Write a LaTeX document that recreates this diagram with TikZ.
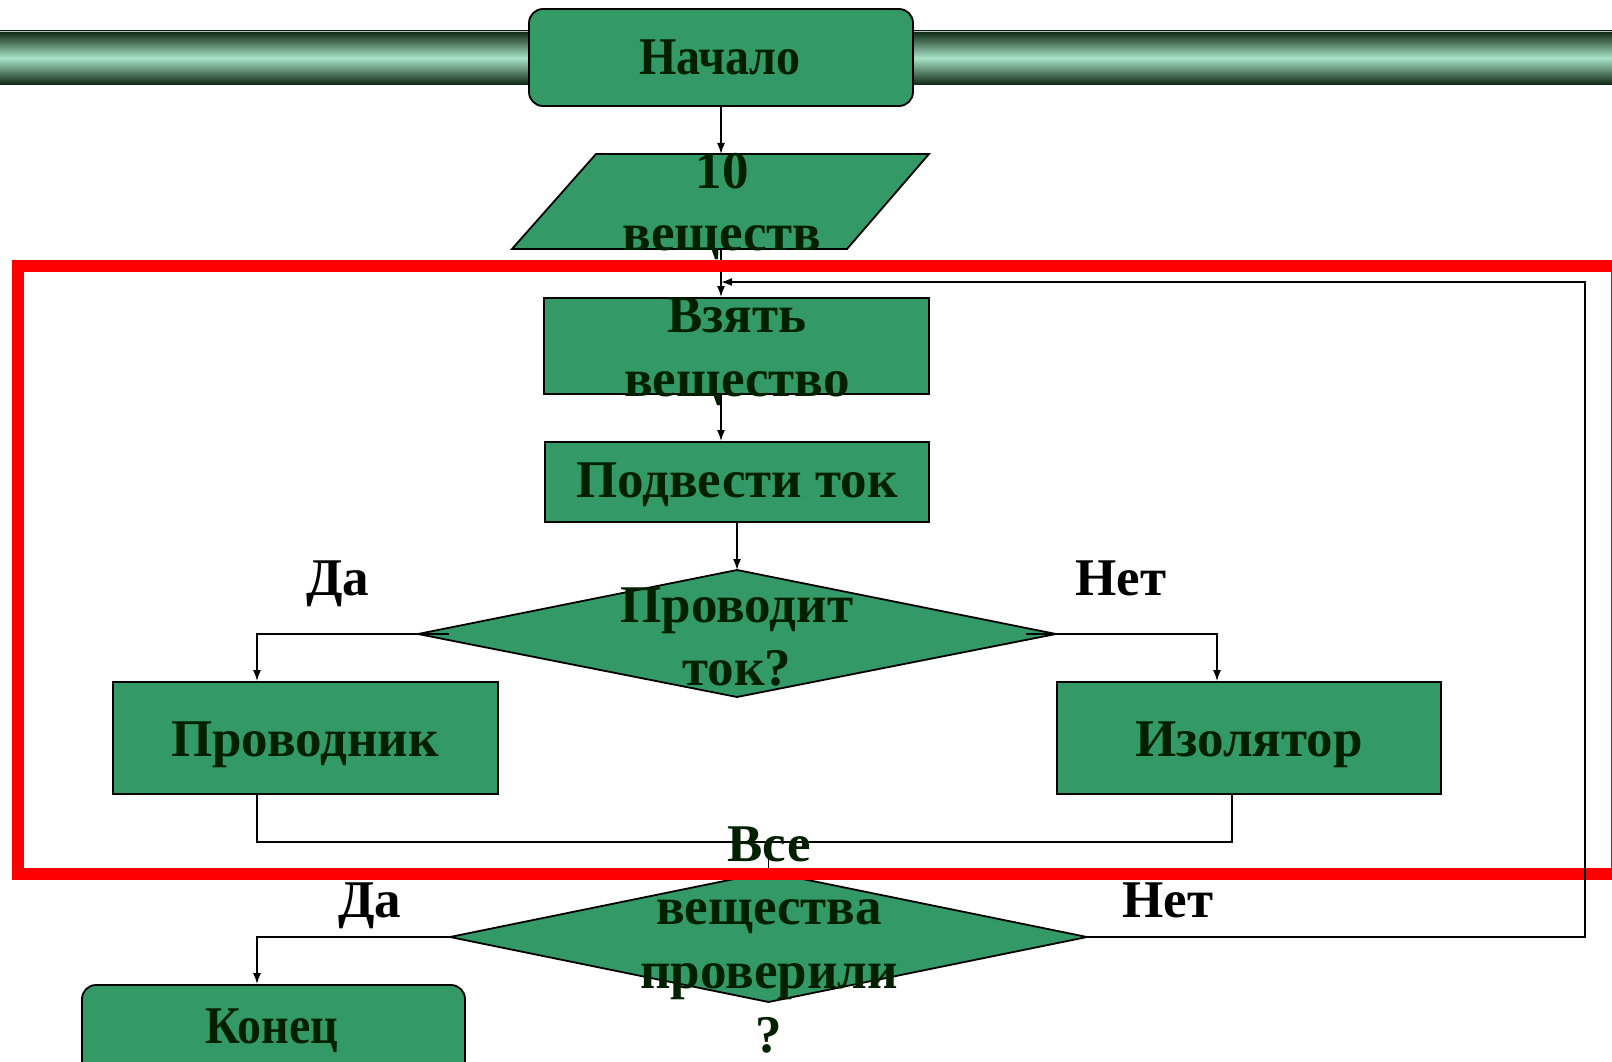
\documentclass[tikz,border=0pt]{standalone}
\usepackage{fontspec}
\setmainfont{Liberation Serif}
\usetikzlibrary{arrows.meta}
\definecolor{boxgreen}{HTML}{339966}
\definecolor{txtgreen}{HTML}{002000}
\definecolor{bardark}{HTML}{0C2610}
\definecolor{barlight}{HTML}{A8E4C8}
\newcommand{\narrowtext}[1]{\scalebox{0.905}[1]{#1}}
\tikzset{
  shapebox/.style={draw=black, line width=1.8pt, fill=boxgreen, inner sep=0pt},
  termbox/.style={shapebox, rounded corners=14pt},
  conn/.style={draw=black, line width=1.6pt},
  arr/.style={conn, -{Latex[length=11pt,width=8pt]}},
  txt/.style={anchor=base, inner sep=0pt, text=txtgreen, font=\fontsize{53pt}{56pt}\selectfont\bfseries},
  lbl/.style={txt, text=black},
  redframe/.style={draw=red, line width=12pt}
}
\begin{document}
\begin{tikzpicture}[x=1pt,y=-1pt]
\useasboundingbox (0,0) rectangle (1612,1062);
% header bar
\shade[top color=bardark, bottom color=bardark, middle color=barlight] (0,31) rectangle (1612,85);
\draw[gray!50, line width=1pt] (0,31.5) -- (1612,31.5);
% shapes
\node[termbox, minimum width=384pt, minimum height=97pt] (start) at (721,57.5) {};
\coordinate (inpT) at (721,154);
\coordinate (inpB) at (721,249);
\path[shapebox] (596,154) -- (929,154) -- (847,249) -- (512,249) -- cycle;
\node[shapebox, minimum width=385pt, minimum height=96pt] (take) at (736.5,346) {};
\node[shapebox, minimum width=384pt, minimum height=80pt] (curr) at (737,482) {};
\coordinate (d1T) at (737,570);
\coordinate (d1L) at (418,634);
\coordinate (d1R) at (1056,634);
\coordinate (d1B) at (737,697);
\path[shapebox] (d1T) -- (d1R) -- (d1B) -- (d1L) -- cycle;
\node[shapebox, minimum width=385pt, minimum height=112pt] (cond) at (305.5,738) {};
\node[shapebox, minimum width=384pt, minimum height=112pt] (ins) at (1249,738) {};
\coordinate (d2T) at (768.5,872);
\coordinate (d2L) at (450,937);
\coordinate (d2R) at (1087,937);
\coordinate (d2B) at (768.5,1002);
\path[shapebox] (d2T) -- (d2R) -- (d2B) -- (d2L) -- cycle;
\node[termbox, minimum width=383pt, minimum height=97pt] (fin) at (273.5,1033.5) {};
% connectors
\coordinate (joinL) at (257,842);
\coordinate (joinR) at (1232,842);
\coordinate (joinM) at (768.5,842);
\coordinate (loopB) at (1585,937);
\coordinate (loopT) at (1585,282);
\coordinate (loopE) at (721,282);
\draw[arr] (start.south -| inpT) -- (inpT);
\draw[arr] (inpB) -- (take.north -| inpB);
\draw[arr] (take.south -| inpB) -- (curr.north -| inpB);
\draw[arr] (curr.south) -- (d1T);
\draw[arr] ([xshift=31pt]d1L) -| (cond.north -| joinL);
\draw[arr] ([xshift=-30pt]d1R) -| (ins.north -| 1217,0);
\draw[conn] (cond.south -| joinL) -- (joinL) -- (joinR) -- (ins.south -| joinR);
\draw[conn] (joinM) -- (d2T);
\draw[arr] (d2L) -| (fin.north -| joinL);
% texts
\node[txt] (tstart) at (720,75) {\narrowtext{Начало}};
\node[txt] (tin1) at (722,188) {10};
\node[txt] (tin2) at (722,250) {веществ};
\node[txt] (ttake1) at (737,332) {Взять};
\node[txt] (ttake2) at (737,396) {вещество};
\node[txt] (tcurr) at (737,497) {Подвести ток};
\node[txt] (td1a) at (737,622) {Проводит};
\node[txt] (td1b) at (737,685) {ток?};
\node[txt] (tcond) at (305,756) {Проводник};
\node[txt] (tins) at (1249,756) {Изолятор};
\node[lbl] (yes1) at (338,595) {Да};
\node[lbl] (no1) at (1121,595) {Нет};
\node[txt] (td2a) at (769,861) {Все};
\node[txt] (td2b) at (769,924) {вещества};
\node[txt] (td2c) at (769,988) {проверили};
\node[txt] (td2d) at (769,1052) {?};
\node[lbl] (yes2) at (370,917) {Да};
\node[lbl] (no2) at (1168,917) {Нет};
\node[txt] (tfin) at (272,1043) {\narrowtext{Конец}};
% red frame
\draw[redframe] (17.5,266) rectangle (1617,873.5);
% loop back line over the frame
\draw[arr] (d2R) -- (loopB) -- (loopT) -- (loopE);
\end{tikzpicture}
\end{document}
